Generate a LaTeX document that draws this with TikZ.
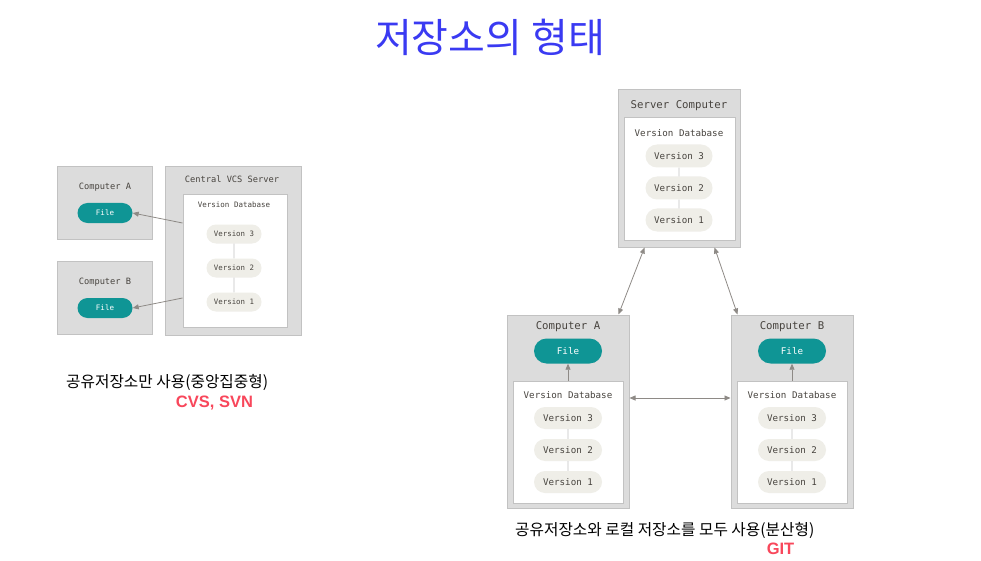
\documentclass[tikz,border=0pt]{standalone}
\usepackage{fontspec}
\setmonofont{DejaVu Sans Mono}
\setsansfont{Liberation Sans}
\newfontfamily\kor{Noto Sans CJK KR}
\usetikzlibrary{arrows.meta,shapes.misc}

\definecolor{boxgray}{HTML}{DCDCDC}
\definecolor{boxline}{HTML}{C2C2C2}
\definecolor{pillgray}{HTML}{EFEEE8}
\definecolor{fileteal}{HTML}{0F9595}
\definecolor{inkgray}{HTML}{48443F}
\definecolor{linkgray}{HTML}{8E8A86}
\definecolor{titleblue}{HTML}{3A3AF2}
\definecolor{tagred}{HTML}{F8475B}

\begin{document}
\begin{tikzpicture}[
  x=1pt, y=-1pt,
  machine/.style={
    rectangle,
    draw=boxline,
    fill=boxgray,
    line width=1pt,
    inner sep=0pt
  },
  database/.style={
    rectangle,
    draw=boxline,
    fill=white,
    line width=1pt,
    inner sep=0pt
  },
  file/.style={
    rounded rectangle,
    fill=fileteal,
    text=white,
    inner sep=0pt,
    font=\ttfamily
  },
  version/.style={
    rounded rectangle,
    fill=pillgray,
    text=inkgray,
    inner sep=0pt,
    font=\ttfamily
  },
  caption/.style={
    text=inkgray,
    inner sep=0pt,
    font=\ttfamily
  },
  link/.style={
    -{Triangle[length=6pt,width=5pt]},
    draw=linkgray,
    line width=0.8pt
  },
  twoway/.style={
    {Triangle[length=6pt,width=5pt]}-{Triangle[length=6pt,width=5pt]},
    draw=linkgray,
    line width=0.8pt
  },
  chain/.style={
    draw=boxline,
    line width=0.8pt
  },
  note/.style={
    inner sep=0pt,
    font=\kor\fontsize{15.7}{17}\selectfont
  },
  tag/.style={
    inner sep=0pt,
    text=tagred,
    font=\sffamily\bfseries\fontsize{16.5}{18}\selectfont
  }
]

\path[use as bounding box] (0,0) rectangle (981,561);

\node[inner sep=0pt, text=titleblue, font=\kor\fontsize{40}{44}\selectfont]
  (title) at (490,37) {저장소의 형태};

\node[machine, minimum width=95pt, minimum height=72pt]  (compA) at (104.5,203) {};
\node[machine, minimum width=95pt, minimum height=73pt]  (compB) at (104.5,297.5) {};
\node[machine, minimum width=136pt, minimum height=168pt] (vcs) at (233,251) {};
\node[database, minimum width=104pt, minimum height=132pt] (dbL) at (235,261) {};

\node[caption, font=\ttfamily\fontsize{8.7}{10}\selectfont] (compAlbl) at (105,187) {Computer A};
\node[caption, font=\ttfamily\fontsize{8.7}{10}\selectfont] (compBlbl) at (105,282) {Computer B};
\node[caption, font=\ttfamily\fontsize{8.7}{10}\selectfont] (vcslbl) at (232,179) {Central VCS Server};
\node[caption, font=\ttfamily\fontsize{7.5}{9}\selectfont] (dbLlbl) at (234,205) {Version Database};

\node[file, minimum width=55pt, minimum height=20pt, font=\ttfamily\fontsize{7.5}{9}\selectfont]
  (fileA) at (105,213) {File};
\node[file, minimum width=55pt, minimum height=20pt, font=\ttfamily\fontsize{7.5}{9}\selectfont]
  (fileB) at (105,308) {File};

\node[version, minimum width=55pt, minimum height=19pt, font=\ttfamily\fontsize{7.4}{9}\selectfont]
  (vL3) at (234,234) {Version 3};
\node[version, minimum width=55pt, minimum height=19pt, font=\ttfamily\fontsize{7.4}{9}\selectfont]
  (vL2) at (234,268) {Version 2};
\node[version, minimum width=55pt, minimum height=19pt, font=\ttfamily\fontsize{7.4}{9}\selectfont]
  (vL1) at (234,302) {Version 1};

\draw[chain] (vL3) -- (vL2);
\draw[chain] (vL2) -- (vL1);
\draw[link] (dbL.west |- 0,223) -- (fileA.east);
\draw[link] (dbL.west |- 0,298) -- (fileB.east);

\node[note, anchor=west] (cvsnote) at (66,382) {공유저장소만 사용(중앙집중형)};
\node[tag] (cvstag) at (214.5,403) {CVS, SVN};

\node[machine, minimum width=122pt, minimum height=157pt] (server) at (679,168.5) {};
\node[database, minimum width=111pt, minimum height=122pt] (dbS) at (679.5,179) {};
\node[machine, minimum width=122pt, minimum height=193pt] (compRA) at (568,411.5) {};
\node[database, minimum width=110pt, minimum height=122pt] (dbA) at (568,442) {};
\node[machine, minimum width=122pt, minimum height=193pt] (compRB) at (792,411.5) {};
\node[database, minimum width=110pt, minimum height=122pt] (dbB) at (792,442) {};

\node[caption, font=\ttfamily\fontsize{10.7}{12}\selectfont] (serverlbl) at (679,106) {Server Computer};
\node[caption, font=\ttfamily\fontsize{9.2}{11}\selectfont] (dbSlbl) at (679,133) {Version Database};
\node[caption, font=\ttfamily\fontsize{10.7}{12}\selectfont] (compRAlbl) at (568,327) {Computer A};
\node[caption, font=\ttfamily\fontsize{9.2}{11}\selectfont] (dbAlbl) at (568,395) {Version Database};
\node[caption, font=\ttfamily\fontsize{10.7}{12}\selectfont] (compRBlbl) at (792,327) {Computer B};
\node[caption, font=\ttfamily\fontsize{9.2}{11}\selectfont] (dbBlbl) at (792,395) {Version Database};

\node[version, minimum width=67pt, minimum height=23pt, font=\ttfamily\fontsize{9.2}{11}\selectfont]
  (vS3) at (679,156) {Version 3};
\node[version, minimum width=67pt, minimum height=23pt, font=\ttfamily\fontsize{9.2}{11}\selectfont]
  (vS2) at (679,188) {Version 2};
\node[version, minimum width=67pt, minimum height=23pt, font=\ttfamily\fontsize{9.2}{11}\selectfont]
  (vS1) at (679,220) {Version 1};

\node[file, minimum width=68pt, minimum height=25pt, font=\ttfamily\fontsize{9.2}{11}\selectfont]
  (fileRA) at (568,351) {File};
\node[version, minimum width=68pt, minimum height=22pt, font=\ttfamily\fontsize{9.2}{11}\selectfont]
  (vA3) at (568,418) {Version 3};
\node[version, minimum width=68pt, minimum height=22pt, font=\ttfamily\fontsize{9.2}{11}\selectfont]
  (vA2) at (568,450) {Version 2};
\node[version, minimum width=68pt, minimum height=22pt, font=\ttfamily\fontsize{9.2}{11}\selectfont]
  (vA1) at (568,482) {Version 1};

\node[file, minimum width=68pt, minimum height=25pt, font=\ttfamily\fontsize{9.2}{11}\selectfont]
  (fileRB) at (792,351) {File};
\node[version, minimum width=68pt, minimum height=22pt, font=\ttfamily\fontsize{9.2}{11}\selectfont]
  (vB3) at (792,418) {Version 3};
\node[version, minimum width=68pt, minimum height=22pt, font=\ttfamily\fontsize{9.2}{11}\selectfont]
  (vB2) at (792,450) {Version 2};
\node[version, minimum width=68pt, minimum height=22pt, font=\ttfamily\fontsize{9.2}{11}\selectfont]
  (vB1) at (792,482) {Version 1};

\draw[chain] (vS3) -- (vS2);
\draw[chain] (vS2) -- (vS1);
\draw[chain] (vA3) -- (vA2);
\draw[chain] (vA2) -- (vA1);
\draw[chain] (vB3) -- (vB2);
\draw[chain] (vB2) -- (vB1);

\draw[link] (dbA.north) -- (fileRA.south);
\draw[link] (dbB.north) -- (fileRB.south);
\draw[twoway] (compRA.east |- 0,398) -- (compRB.west |- 0,398);
\draw[twoway] ([xshift=27pt]server.south west) -- ([xshift=112pt]compRA.north west);
\draw[twoway] ([xshift=-26pt]server.south east) -- ([xshift=7pt]compRB.north west);

\node[note, anchor=west] (gitnote) at (515,530) {공유저장소와 로컬 저장소를 모두 사용(분산형)};
\node[tag] (gittag) at (780.5,549) {GIT};

\end{tikzpicture}
\end{document}
